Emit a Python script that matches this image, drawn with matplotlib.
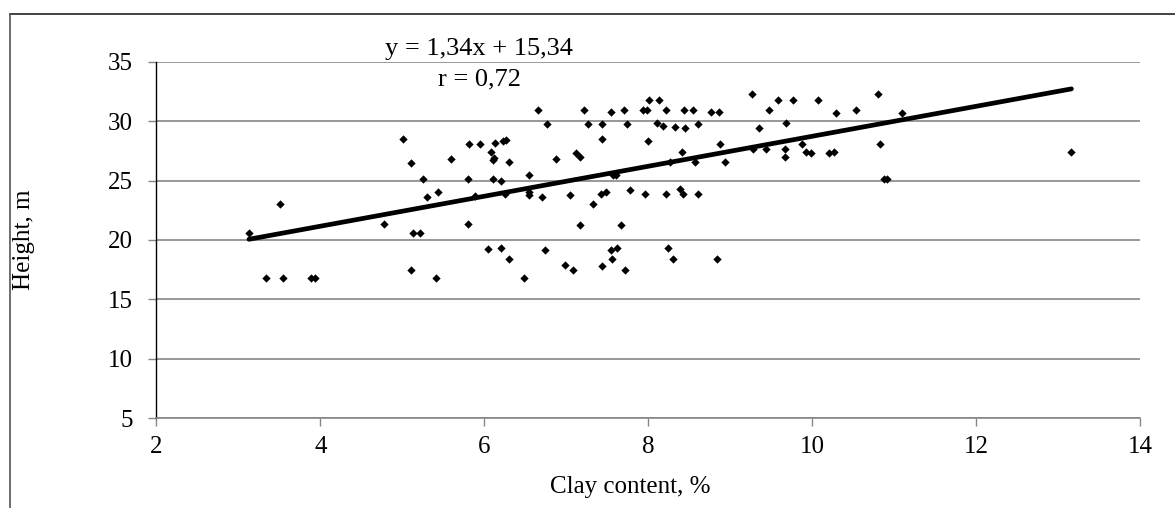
import numpy as np
import matplotlib
matplotlib.use("Agg")
import matplotlib.pyplot as plt
from matplotlib.lines import Line2D

plt.rcParams['font.family'] = ['Liberation Serif', 'DejaVu Serif']

clay = [
    3.13, 3.51, 3.34, 3.55, 3.89, 3.94, 5.01, 5.10, 5.81, 5.95,
    5.59, 5.25, 5.80, 5.30, 5.44, 5.89, 4.78, 5.80, 5.13, 5.22,
    5.11, 5.41, 6.05,
    6.08, 6.13, 6.23, 6.26, 6.10, 6.12, 6.30, 6.10, 6.20, 6.25,
    6.55, 6.55, 6.54, 6.70, 6.65, 6.77, 6.88, 7.12, 7.17, 7.04,
    7.22, 7.26, 7.17, 7.33, 7.42, 7.49, 7.43, 7.44, 7.54, 7.57,
    7.61, 7.70, 7.74, 7.67, 7.78, 7.96, 7.93, 7.98, 8.01, 8.13,
    8.00, 8.11, 8.18, 8.22, 8.33, 8.27, 8.21, 8.39, 8.42, 8.41,
    8.44, 8.54, 8.45, 8.61, 8.57, 8.61, 8.77, 8.86, 8.88, 8.94,
    9.26, 9.35, 9.28,
    6.20, 6.30, 6.48, 6.74, 6.99, 7.08, 7.44, 7.54, 7.62, 7.56,
    7.72, 8.24, 8.30, 8.84,
    9.47, 9.58, 9.77, 9.68, 9.44, 9.67, 9.67, 9.87, 9.92, 9.98,
    10.07, 10.20, 10.26, 10.29, 10.53, 10.80, 10.83, 10.87, 10.91, 11.09,
    13.16,
]
height = [
    20.55, 23.04, 16.8, 16.8, 16.8, 16.8, 28.5, 26.49, 28.1, 28.1,
    26.8, 25.14, 25.14, 23.63, 24.02, 23.7, 21.33, 21.33, 20.55, 20.55,
    17.44, 16.8, 19.26,
    27.38, 28.17, 28.3, 28.45, 26.76, 26.9, 26.54, 25.14, 24.94, 23.9,
    25.5, 23.8, 24.0, 23.63, 30.9, 29.79, 26.82, 27.33, 26.99, 23.82,
    30.9, 29.79, 21.3, 23.04, 23.9, 24.0, 29.79, 28.5, 30.8, 25.5,
    25.5, 30.9, 29.79, 21.3, 24.24, 23.9, 30.9, 30.9, 31.8, 31.8,
    28.3, 29.85, 29.56, 30.9, 29.5, 26.6, 23.9, 24.3, 23.9, 27.41,
    30.9, 30.9, 29.4, 29.79, 26.6, 23.9, 30.8, 30.8, 28.1, 26.6,
    32.3, 29.43, 27.66,
    19.29, 18.42, 16.8, 19.2, 17.86, 17.44, 17.8, 19.2, 19.34, 18.42,
    17.44, 19.34, 18.42, 18.42,
    30.9, 31.8, 31.8, 29.82, 27.69, 27.69, 26.99, 28.1, 27.41, 27.33,
    31.8, 27.33, 27.41, 30.69, 30.9, 32.3, 28.1, 25.14, 25.14, 30.69,
    27.41,
]

x_ticks = [2, 4, 6, 8, 10, 12, 14]
y_ticks = [5, 10, 15, 20, 25, 30, 35]
equation_text = "y = 1,34x + 15,34"
r_text = "r = 0,72"
x_label = "Clay content, %"
y_label = "Height, m"

W, H = 1175, 508
fig = plt.figure(figsize=(W / 100, H / 100), dpi=100)
ax = fig.add_axes([156.3 / W, 1 - 418.3 / H, (1140.3 - 156.3) / W, (418.3 - 61.7) / H])

grid_col = '#868686'
fs = 18
ax.set_xlim(2, 14)
ax.set_ylim(5, 35)
ax.set_xticks(x_ticks)
ax.set_yticks(y_ticks)
ax.yaxis.grid(True, color=grid_col, linewidth=1.2)
ax.set_axisbelow(True)
for s in ['top', 'right']:
    ax.spines[s].set_visible(False)
ax.spines['left'].set_color('black')
ax.spines['left'].set_linewidth(1.0)
ax.spines['bottom'].set_color(grid_col)
ax.spines['bottom'].set_linewidth(1.2)
ax.tick_params(axis='x', direction='out', length=6, width=1, color=grid_col,
               labelsize=fs, pad=6.5)
ax.tick_params(axis='y', direction='out', length=6, width=1, color=grid_col,
               labelsize=fs, pad=11)

ax.scatter(clay, height, marker='D', s=18, color='black', linewidths=0, zorder=3)

cx = np.array(clay)
cy = np.array(height)
slope, intercept = np.polyfit(cx, cy, 1)
xs = np.array([cx.min(), cx.max()])
ax.plot(xs, slope * xs + intercept, color='black', linewidth=3.4,
        solid_capstyle='round', zorder=4)

fig.text(479 / W, 1 - 55 / H, equation_text, ha='center', va='baseline', fontsize=19)
fig.text(479 / W, 1 - 85 / H, r_text, ha='center', va='baseline', fontsize=19)
fig.text(630 / W, 1 - 487 / H, x_label, ha='center', va='center', fontsize=fs)
fig.text(24 / W, 1 - 240 / H, y_label, ha='center', va='center', rotation=90, fontsize=fs)

# chart border (partially cropped)
fig.add_artist(Line2D([9.5 / W, 1.0], [1 - 14.3 / H, 1 - 14.3 / H],
                      transform=fig.transFigure, color='#222222', linewidth=1.2))
fig.add_artist(Line2D([9.5 / W, 9.5 / W], [1 - 14.3 / H, 0.0],
                      transform=fig.transFigure, color='#555555', linewidth=1.2))

fig.savefig('out.png', dpi=100)
